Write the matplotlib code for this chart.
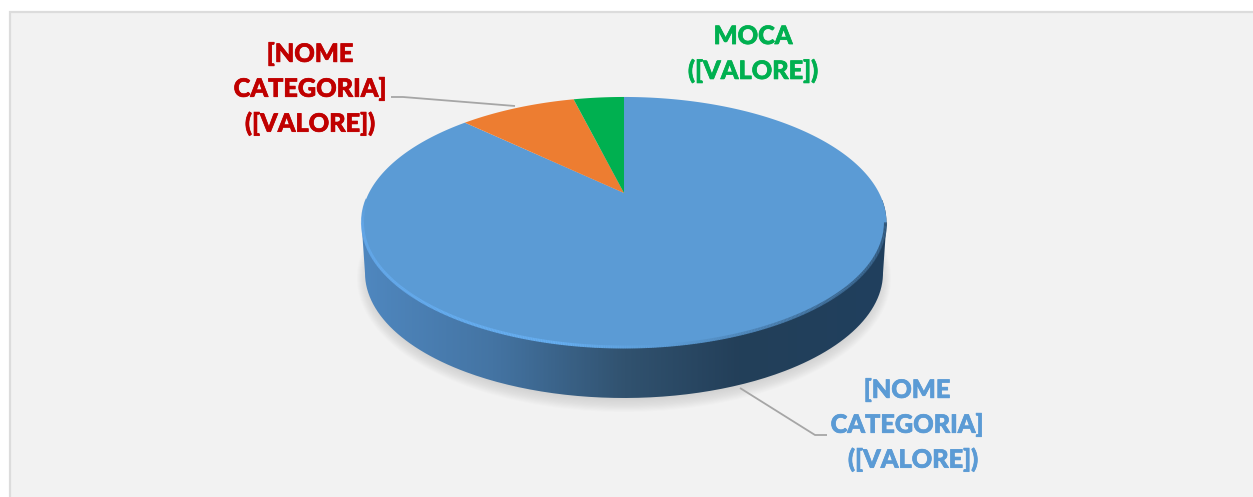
import matplotlib
matplotlib.use('Agg')
import matplotlib.pyplot as plt
import matplotlib.patheffects as pe
from matplotlib.collections import LineCollection
from matplotlib.colors import LinearSegmentedColormap
from matplotlib.patches import Ellipse, PathPatch, Rectangle
from matplotlib.path import Path
from matplotlib.transforms import Transform
import numpy as np

plt.rcParams['font.family'] = ['Lato', 'DejaVu Sans']

# slices go clockwise from twelve o'clock
categories = ['[NOME\nCATEGORIA]\n([VALORE])', '[NOME\nCATEGORIA]\n([VALORE])', 'MOCA\n([VALORE])']
values = [87.1, 9.0, 3.9]
slice_colors = ['#5b9bd5', '#ed7d31', '#00b050']
label_colors = ['#5b9bd5', '#c00000', '#00b050']

W, H = 1253, 497
APEX_X, APEX_Y = 624, 193
TOP_C, TOP_A, TOP_B = 222.5, 262.5, 125.5
BOT_C, BOT_A, BOT_B = 273, 259, 125


class TiltTransform(Transform):
    # unit pie circle -> tilted disc in pixels, centre stays at the apex
    input_dims = 2
    output_dims = 2
    k = 0.235
    a = 255.1
    b = 118.6

    def transform_non_affine(self, xy):
        xy = np.asarray(xy, dtype=float)
        d = 1 + self.k * xy[:, 1]
        return np.column_stack([APEX_X + self.a * xy[:, 0] / d, APEX_Y - self.b * xy[:, 1] / d])

    def transform_path_non_affine(self, path):
        # sample the beziers, control points would not survive the projection
        pts = [seg(np.linspace(0, 1, 24)) for seg, code in path.iter_bezier() if code != Path.MOVETO]
        return Path(self.transform_non_affine(np.vstack(pts)))


fig = plt.figure(figsize=(W / 100, H / 100), dpi=100, facecolor='white')
ax = fig.add_axes([0, 0, 1, 1])

wedges, _ = ax.pie(values, colors=slice_colors, startangle=90, counterclock=False, radius=1)
tilt = TiltTransform()
for w in wedges:
    w.set_transform(tilt + ax.transData)
    w.set_zorder(6)
    w.set_linewidth(0)

ax.set_aspect('auto')
ax.set_xlim(0, W)
ax.set_ylim(H, 0)
ax.set_axis_off()

# panel
ax.add_patch(Rectangle((10, 12), W, H, facecolor='#f2f2f2', edgecolor='#dcdcdc', linewidth=1.6, zorder=0))

# soft shadow under the disc
for i in range(14):
    ax.add_patch(Ellipse((624, BOT_C + 5), 2 * (BOT_A + 8 - i * 1.0), 2 * (BOT_B + 9 - i * 1.1),
                         facecolor='#8c8c8c', edgecolor='none', alpha=0.025, zorder=1))

# side wall, outline is lower half of bottom ellipse plus upper half of top ellipse
t1 = np.linspace(np.pi, 2 * np.pi, 200)
t2 = np.linspace(0, np.pi, 200)
xs = np.concatenate([APEX_X + BOT_A * np.cos(t1), APEX_X + TOP_A * np.cos(t2)])
ys = np.concatenate([BOT_C - BOT_B * np.sin(t1), TOP_C - TOP_B * np.sin(t2)])
side_path = Path(np.column_stack([xs, ys]))
side_patch = PathPatch(side_path, facecolor='none', edgecolor='none', transform=ax.transData)
ax.add_patch(side_patch)

side_cmap = LinearSegmentedColormap.from_list('side', [
    (0.00, '#4f87bf'), (0.25, '#4474a3'), (0.50, '#31526f'),
    (0.72, '#233f59'), (1.00, '#20405e')])
grad = np.linspace(0, 1, 400).reshape(1, -1)
im = ax.imshow(grad, cmap=side_cmap, extent=(APEX_X - TOP_A, APEX_X + TOP_A, 400, 200),
               aspect='auto', zorder=3)
im.set_clip_path(side_patch)
ax.set_xlim(0, W)
ax.set_ylim(H, 0)

# bevel on the rim: light on the left, blends to dark on the right
t = np.linspace(np.pi * 0.94, 2 * np.pi, 500)
rx = APEX_X + (TOP_A - 1) * np.cos(t)
ry = TOP_C - (TOP_B - 1) * np.sin(t)
pts = np.column_stack([rx, ry]).reshape(-1, 1, 2)
segs = np.concatenate([pts[:-1], pts[1:]], axis=1)
rim_cmap = LinearSegmentedColormap.from_list('rim', [
    (0.00, '#5b9bd5'), (0.06, '#64a8ea'), (0.45, '#66aef0'), (0.58, '#5b9bd5'), (0.78, '#3f6c96'), (1.00, '#2a4c6c')])
rim = LineCollection(segs, cmap=rim_cmap, linewidths=2.2, zorder=7)
rim.set_array(np.linspace(0, 1, len(segs)))
ax.add_collection(rim)

# leader lines
ax.plot([391, 403, 515], [97, 97, 106], color='#a6a6a6', lw=1.3, zorder=8, solid_capstyle='butt')
ax.plot([740, 815, 827], [388, 435, 435], color='#a6a6a6', lw=1.3, zorder=8, solid_capstyle='butt')

# labels, the thin stroke brings the weight up to the original
ax.text(907, 425, categories[0].replace('\n(', '\n  ('), color=label_colors[0], ha='center', va='center',
        fontsize=18.2, fontweight='black', linespacing=1.58, zorder=9,
        path_effects=[pe.withStroke(linewidth=0.5, foreground=label_colors[0])])
ax.text(310, 89, categories[1], color=label_colors[1], ha='center', va='center',
        fontsize=18.2, fontweight='black', linespacing=1.58, zorder=9,
        path_effects=[pe.withStroke(linewidth=0.5, foreground=label_colors[1])])
ax.text(753, 54, categories[2], color=label_colors[2], ha='center', va='center',
        fontsize=18.2, fontweight='black', linespacing=1.58, zorder=9,
        path_effects=[pe.withStroke(linewidth=0.5, foreground=label_colors[2])])

fig.savefig('out.png', dpi=100, facecolor='white')
